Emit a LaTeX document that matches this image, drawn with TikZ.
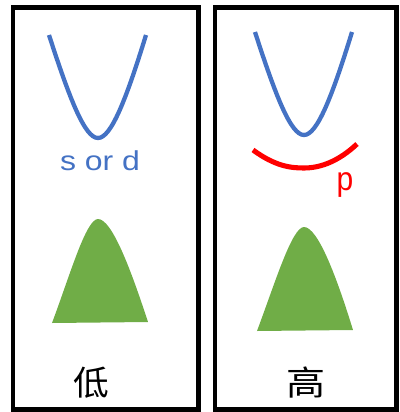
\documentclass[tikz,border=0pt]{standalone}
\usepackage{fontspec}
\setmainfont{Liberation Sans}
\newfontfamily\cjk{Noto Sans CJK SC}
\definecolor{bandblue}{HTML}{4472C4}
\definecolor{bandred}{HTML}{FF0000}
\definecolor{dosgreen}{HTML}{70AD47}
\begin{document}
\begin{tikzpicture}[x=0.75pt,y=-0.75pt,
  panel/.style={draw=black,line width=3.4pt},
  cband/.style={draw=bandblue,line width=3.2pt},
  vband/.style={draw=bandred,line width=3.8pt},
  dos/.style={fill=dosgreen,draw=none},
  lbl/.style={inner sep=0pt,anchor=base}]
\useasboundingbox (0,0) rectangle (400,412);

% two panels
\draw[panel] (13,7.5) rectangle (198.5,409.5);
\draw[panel] (215,7.5) rectangle (396.5,409.5);

% conduction bands
\draw[cband] (49,35) .. controls (70,100) and (85,138) .. (98,138)
             .. controls (111,138) and (126,100) .. (146,35);
\draw[cband] (255,32) .. controls (276,97) and (291,135) .. (304,135)
             .. controls (317,135) and (332,97) .. (352,32);

% valence band (right panel only)
\draw[vband] (253,150) .. controls (275,166) and (290,168) .. (304,168)
             .. controls (322,168) and (340,160) .. (357,144);

% density-of-states shapes
\fill[dos] (52,323) .. controls (70,275) and (86,219) .. (98,219)
           .. controls (112,219) and (131,270) .. (148,322) -- cycle;
\fill[dos] (257,331) .. controls (275,283) and (292,227) .. (304,227)
           .. controls (318,227) and (337,278) .. (353,330) -- cycle;

% labels
\node[lbl,text=bandblue,font=\fontsize{20.5}{24}\selectfont] (sd) at (100,170.7)
  {\scalebox{1.17}[1]{s or d}};
\node[lbl,text=bandred,font=\fontsize{25}{30}\selectfont] (pl) at (345,190)
  {\scalebox{0.9}[1]{p}};
\node[inner sep=0pt,font=\cjk\fontsize{25.5}{30}\selectfont] (low) at (91,383)
  {\scalebox{1.05}[1]{低}};
\node[inner sep=0pt,font=\cjk\fontsize{25.5}{30}\selectfont] (high) at (306,383)
  {\scalebox{1.15}[1]{高}};
\end{tikzpicture}
\end{document}
